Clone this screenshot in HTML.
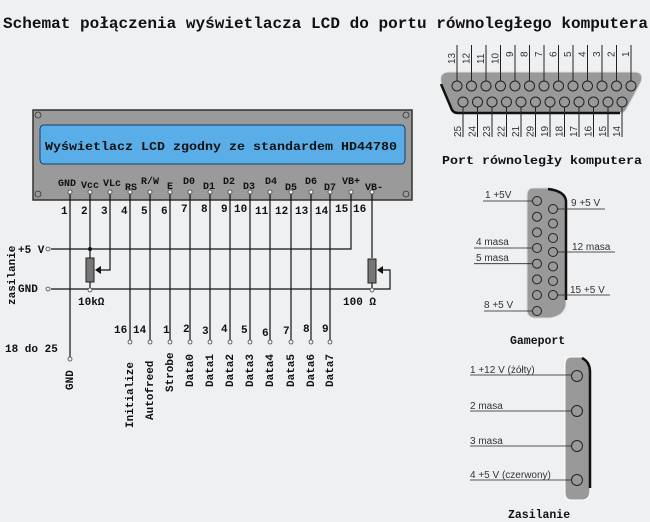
<!DOCTYPE html>
<html><head><meta charset="utf-8"><style>
html,body{margin:0;padding:0;background:#eff0f2;}
svg{display:block}
.m{font-family:"Liberation Mono",monospace;font-weight:bold;fill:#111}
.s{font-family:"Liberation Sans",sans-serif;fill:#333;font-size:10px}
</style></head><body>
<svg width="650" height="522" viewBox="0 0 650 522" xmlns="http://www.w3.org/2000/svg">
<rect width="650" height="522" fill="#eff0f2"/>
<text class="m" x="3" y="28" font-size="15.5" textLength="645" lengthAdjust="spacingAndGlyphs">Schemat połączenia wyświetlacza LCD do portu równoległego komputera</text>

<!-- LCD -->
<rect x="33" y="110" width="379" height="90" fill="#9a9a9a" stroke="#333" stroke-width="1.5"/>
<g fill="none" stroke="#333" stroke-width="0.8">
<circle cx="38" cy="115" r="3"/><circle cx="406" cy="115" r="3"/><circle cx="38" cy="194" r="3"/><circle cx="406" cy="194" r="3"/>
</g>
<path d="M44 125 H401 Q405 125 405 130 V159 Q405 164 401 164 H44 Q40 164 40 159 V130 Q40 125 44 125Z" fill="#5aaee8" stroke="#1a3a6a" stroke-width="1"/>
<text class="m" x="45" y="150" font-size="12" textLength="352" lengthAdjust="spacingAndGlyphs">Wyświetlacz LCD zgodny ze standardem HD44780</text>

<g class="m" font-size="10">
<text x="58" y="186">GND</text><text x="81" y="188">Vcc</text><text x="103" y="186">VLc</text>
<text x="125" y="190">RS</text><text x="141" y="184">R/W</text><text x="167" y="189">E</text>
<text x="183" y="184">D0</text><text x="203" y="189">D1</text><text x="223" y="184">D2</text>
<text x="243" y="189">D3</text><text x="265" y="184">D4</text><text x="285" y="190">D5</text>
<text x="305" y="184">D6</text><text x="324" y="190">D7</text><text x="342" y="184">VB+</text><text x="365" y="190">VB-</text>
</g>
<g class="m" font-size="11">
<text x="61" y="214">1</text><text x="81" y="214">2</text><text x="101" y="214">3</text><text x="121" y="214">4</text>
<text x="141" y="214">5</text><text x="161" y="214">6</text><text x="181" y="212">7</text><text x="201" y="212">8</text>
<text x="221" y="212">9</text><text x="234" y="212">10</text><text x="255" y="214">11</text><text x="275" y="214">12</text>
<text x="295" y="214">13</text><text x="315" y="214">14</text><text x="335" y="212">15</text><text x="353" y="212">16</text>
</g>

<g stroke="#111" stroke-width="1.2" fill="none">
<path d="M70 194 V357"/><path d="M90 194 V258"/><path d="M110 194 V270 H100"/>
<path d="M130 194 V340"/><path d="M150 194 V340"/><path d="M170 194 V340"/><path d="M190 194 V340"/>
<path d="M210 194 V340"/><path d="M230 194 V340"/><path d="M250 194 V340"/><path d="M270 194 V340"/>
<path d="M291 194 V340"/><path d="M311 194 V340"/><path d="M330 194 V340"/>
<path d="M351 194 V249 H51"/><path d="M372 194 V258"/>
<path d="M51 289 H390 V270 H382"/>
<path d="M90 282 V289"/><path d="M372 283 V289"/>
</g>
<rect x="86" y="258" width="8" height="24" fill="#777" stroke="#222"/>
<rect x="368" y="259" width="8" height="24" fill="#777" stroke="#222"/>
<path d="M95 270 L101 266 V274Z M377 270 L383 266 V274Z" fill="#111"/>
<g fill="#eff0f2" stroke="#444" stroke-width="0.8">
<circle cx="70" cy="192" r="2"/><circle cx="90" cy="192" r="2"/><circle cx="110" cy="192" r="2"/><circle cx="130" cy="192" r="2"/>
<circle cx="150" cy="192" r="2"/><circle cx="170" cy="192" r="2"/><circle cx="190" cy="192" r="2"/><circle cx="210" cy="192" r="2"/>
<circle cx="230" cy="192" r="2"/><circle cx="250" cy="192" r="2"/><circle cx="270" cy="192" r="2"/><circle cx="291" cy="192" r="2"/>
<circle cx="311" cy="192" r="2"/><circle cx="330" cy="192" r="2"/><circle cx="351" cy="192" r="2"/><circle cx="372" cy="192" r="2"/>
<circle cx="48" cy="249" r="2"/><circle cx="48" cy="289" r="2"/><circle cx="90" cy="290" r="2"/><circle cx="372" cy="290" r="2"/>
<circle cx="70" cy="359" r="2"/>
<circle cx="130" cy="342" r="2"/><circle cx="150" cy="342" r="2"/><circle cx="170" cy="342" r="2"/><circle cx="190" cy="342" r="2"/>
<circle cx="210" cy="342" r="2"/><circle cx="230" cy="342" r="2"/><circle cx="250" cy="342" r="2"/><circle cx="270" cy="342" r="2"/>
<circle cx="291" cy="342" r="2"/><circle cx="311" cy="342" r="2"/><circle cx="330" cy="342" r="2"/>
</g>
<circle cx="90" cy="249" r="2" fill="#111"/>
<g class="m" font-size="11">
<text x="18" y="253">+5 V</text><text x="18" y="292">GND</text>
<text x="78" y="305">10kΩ</text><text x="343" y="305">100 Ω</text>
<text x="5" y="352">18 do 25</text>
<text x="114" y="333">16</text><text x="133" y="333">14</text><text x="163" y="333">1</text><text x="183" y="332">2</text>
<text x="202" y="334">3</text><text x="221" y="332">4</text><text x="241" y="333">5</text><text x="262" y="336">6</text>
<text x="283" y="334">7</text><text x="303" y="332">8</text><text x="322" y="332">9</text>
</g>
<g class="m" font-size="11">
<text transform="translate(15,305) rotate(-90)">zasilanie</text>
<text transform="translate(73,390) rotate(-90)">GND</text>
<text transform="translate(133,428) rotate(-90)">Initialize</text>
<text transform="translate(153,420) rotate(-90)">Autofreed</text>
<text transform="translate(173,392) rotate(-90)">Strobe</text>
<text transform="translate(193,387) rotate(-90)">Data0</text>
<text transform="translate(213,387) rotate(-90)">Data1</text>
<text transform="translate(233,387) rotate(-90)">Data2</text>
<text transform="translate(253,387) rotate(-90)">Data3</text>
<text transform="translate(273,387) rotate(-90)">Data4</text>
<text transform="translate(294,387) rotate(-90)">Data5</text>
<text transform="translate(314,387) rotate(-90)">Data6</text>
<text transform="translate(333,387) rotate(-90)">Data7</text>
</g>

<!-- DB25 -->
<path d="M448 72 H636 Q644 73 641 82 L626 110 Q624 113 620 113 H458 Q454 113 452 110 L441 82 Q439 73 448 72Z" fill="#999" stroke="#ddd" stroke-width="1"/>
<path d="M441 84 L452 110 Q454 113 458 113 H620" fill="none" stroke="#111" stroke-width="2.5"/>
<g stroke="#222" stroke-width="1" fill="none">
<circle cx="457" cy="86" r="5"/><circle cx="471.5" cy="86" r="5"/><circle cx="486" cy="86" r="5"/><circle cx="500.5" cy="86" r="5"/><circle cx="515" cy="86" r="5"/><circle cx="529.5" cy="86" r="5"/><circle cx="544" cy="86" r="5"/><circle cx="558.5" cy="86" r="5"/><circle cx="573" cy="86" r="5"/><circle cx="587.5" cy="86" r="5"/><circle cx="602" cy="86" r="5"/><circle cx="616.5" cy="86" r="5"/><circle cx="631" cy="86" r="5"/>
<circle cx="463" cy="102" r="5"/><circle cx="477.5" cy="102" r="5"/><circle cx="492" cy="102" r="5"/><circle cx="506.5" cy="102" r="5"/><circle cx="521" cy="102" r="5"/><circle cx="535.5" cy="102" r="5"/><circle cx="550" cy="102" r="5"/><circle cx="564.5" cy="102" r="5"/><circle cx="579" cy="102" r="5"/><circle cx="593.5" cy="102" r="5"/><circle cx="608" cy="102" r="5"/><circle cx="622" cy="102" r="5"/>
<path d="M457 45V81M471.5 45V81M486 45V81M500.5 45V81M515 45V81M529.5 45V81M544 45V81M558.5 45V81M573 45V81M587.5 45V81M602 45V81M616.5 45V81M631 45V81"/>
<path d="M463 107V137M477.5 107V137M492 107V137M506.5 107V137M521 107V137M535.5 107V137M550 107V137M564.5 107V137M579 107V137M593.5 107V137M608 107V137M622 107V137"/>
</g>
<g class="s" font-size="10">
<text transform="translate(455,64) rotate(-90)">13</text><text transform="translate(469.5,64) rotate(-90)">12</text><text transform="translate(484,64) rotate(-90)">11</text><text transform="translate(498.5,64) rotate(-90)">10</text><text transform="translate(513,57) rotate(-90)">9</text><text transform="translate(527.5,57) rotate(-90)">8</text><text transform="translate(542,57) rotate(-90)">7</text><text transform="translate(556.5,57) rotate(-90)">6</text><text transform="translate(571,57) rotate(-90)">5</text><text transform="translate(585.5,57) rotate(-90)">4</text><text transform="translate(600,57) rotate(-90)">3</text><text transform="translate(614.5,57) rotate(-90)">2</text><text transform="translate(629,57) rotate(-90)">1</text>
<text transform="translate(461,137) rotate(-90)">25</text><text transform="translate(475.5,137) rotate(-90)">24</text><text transform="translate(490,137) rotate(-90)">23</text><text transform="translate(504.5,137) rotate(-90)">22</text><text transform="translate(519,137) rotate(-90)">21</text><text transform="translate(533.5,137) rotate(-90)">29</text><text transform="translate(548,137) rotate(-90)">19</text><text transform="translate(562.5,137) rotate(-90)">18</text><text transform="translate(577,137) rotate(-90)">17</text><text transform="translate(591.5,137) rotate(-90)">16</text><text transform="translate(606,137) rotate(-90)">15</text><text transform="translate(620,137) rotate(-90)">14</text>
</g>
<text class="m" x="442" y="164" font-size="11.5" textLength="200" lengthAdjust="spacingAndGlyphs">Port równoległy komputera</text>

<!-- Gameport -->
<path d="M533 188 H548 Q565 190 566 200 V305 Q564 316 550 318 H536 Q527 318 527 310 V196 Q527 188 533 188Z" fill="#999" stroke="#ddd"/>
<path d="M548 189 Q565 191 566 201 V300" fill="none" stroke="#111" stroke-width="2.5"/>
<g stroke="#222" fill="none" stroke-width="1">
<circle cx="537" cy="201" r="4.5"/><circle cx="537" cy="216.7" r="4.5"/><circle cx="537" cy="232.4" r="4.5"/><circle cx="537" cy="248" r="4.5"/><circle cx="537" cy="263.7" r="4.5"/><circle cx="537" cy="279.4" r="4.5"/><circle cx="537" cy="295" r="4.5"/><circle cx="537" cy="311" r="4.5"/>
<circle cx="553" cy="209" r="4.5"/><circle cx="553" cy="223.5" r="4.5"/><circle cx="553" cy="238" r="4.5"/><circle cx="553" cy="252" r="4.5"/><circle cx="553" cy="266.5" r="4.5"/><circle cx="553" cy="281" r="4.5"/><circle cx="553" cy="295" r="4.5"/>
</g>
<g stroke="#222" stroke-width="0.8">
<path d="M483 201H532M474 248H532M474 263.7H532M484 311H532M558 209H605M558 252H615M558 295H610"/>
</g>
<g class="s">
<text x="485" y="198">1  +5V</text><text x="476" y="245">4  masa</text><text x="476" y="261">5  masa</text><text x="484" y="308">8  +5 V</text>
<text x="571" y="206">9  +5 V</text><text x="572" y="250">12  masa</text><text x="570" y="293">15  +5 V</text>
</g>
<text class="m" x="510" y="344" font-size="11.5">Gameport</text>

<!-- Zasilanie -->
<path d="M571 357 H582 Q590 360 590 370 V490 Q590 500 582 500 H571 Q565 500 565 492 V365 Q565 357 571 357Z" fill="#999" stroke="#fff"/>
<path d="M582 358 Q590 362 590 372 V488" fill="none" stroke="#111" stroke-width="2.5"/>
<g stroke="#222" fill="none" stroke-width="1">
<circle cx="577" cy="376" r="5.5"/><circle cx="577" cy="411" r="5.5"/><circle cx="577" cy="446" r="5.5"/><circle cx="577" cy="480" r="5.5"/>
</g>
<g stroke="#222" stroke-width="0.8"><path d="M470 375H571M470 411H571M470 446H571M470 480H571"/></g>
<g class="s">
<text x="470" y="373">1  +12 V (żółty)</text><text x="470" y="409">2  masa</text><text x="470" y="444">3  masa</text><text x="470" y="478">4  +5 V (czerwony)</text>
</g>
<text class="m" x="508" y="518" font-size="11.5">Zasilanie</text>
</svg>
</body></html>
